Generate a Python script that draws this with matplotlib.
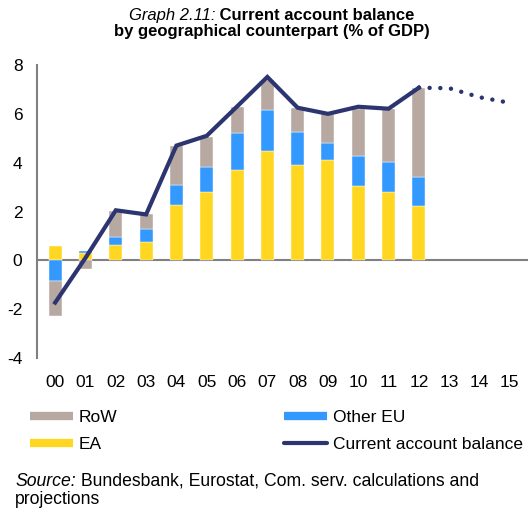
import numpy as np
import matplotlib.pyplot as plt
from matplotlib.lines import Line2D

plt.rcParams['font.family'] = ['Liberation Sans', 'DejaVu Sans']
plt.rcParams['axes.unicode_minus'] = False

years = ['00', '01', '02', '03', '04', '05', '06', '07',
         '08', '09', '10', '11', '12', '13', '14', '15']
# components, % of GDP (2000-2012)
ea = [0.59, 0.31, 0.61, 0.75, 2.27, 2.80, 3.70, 4.47, 3.90, 4.11, 3.04, 2.80, 2.21]
other_eu = [-0.86, 0.08, 0.35, 0.55, 0.83, 1.03, 1.53, 1.69, 1.35, 0.69, 1.23, 1.22, 1.20]
row = [-1.42, -0.37, 1.06, 0.61, 1.60, 1.24, 1.07, 1.23, 0.97, 1.18, 1.94, 2.16, 3.64]
cab = [-1.73, 0.10, 2.05, 1.88, 4.70, 5.10, 6.30, 7.51, 6.25, 6.00, 6.29, 6.21, 7.07]
cab_forecast = [7.07, 7.05, 6.68, 6.45]  # 12-15

c_row = '#B7A9A1'
c_oeu = '#3399FF'
c_ea = '#FFD620'
c_line = '#2D3570'

fig = plt.figure(figsize=(5.30, 5.11), dpi=100)
ax = fig.add_axes([37/530, 1-358/511, (528-37)/530, (358-65)/511])

x = np.arange(len(ea))
w = 0.43
pos_bottom = np.zeros(len(ea))
neg_bottom = np.zeros(len(ea))
for vals, col in [(ea, c_ea), (other_eu, c_oeu), (row, c_row)]:
    vals = np.array(vals)
    bottom = np.where(vals >= 0, pos_bottom, neg_bottom)
    ax.bar(x, vals, w, bottom=bottom, color=col, edgecolor='white', linewidth=0.3, zorder=2)
    pos_bottom += np.where(vals >= 0, vals, 0)
    neg_bottom += np.where(vals < 0, vals, 0)

ax.plot(x, cab, color=c_line, lw=3, zorder=4, solid_joinstyle='miter')
xf = np.arange(12, 16)
ax.plot(xf, cab_forecast, color=c_line, lw=3.2, linestyle=(0, (0.01, 2.4)),
        dash_capstyle='round', zorder=4)

ax.axhline(0, color='#808080', lw=1.5, zorder=1)
ax.set_xlim(-0.6, 15.6)
ax.set_ylim(-4, 8)
ax.set_yticks(range(-4, 9, 2))
ax.set_xticks(range(len(years)))
ax.set_xticklabels(years)
ax.tick_params(length=0, labelsize=12.5, colors='black')
ax.tick_params(axis='x', pad=12)
ax.tick_params(axis='y', pad=10.5)
for s in ['top', 'right', 'bottom']:
    ax.spines[s].set_visible(False)
ax.spines['left'].set_color('#808080')
ax.spines['left'].set_linewidth(1.5)

# title, two styles on the first line
fig.canvas.draw()
r = fig.canvas.get_renderer()
t1 = fig.text(0, 1-20/511, 'Graph 2.11:', fontsize=12, style='italic', va='baseline')
t2 = fig.text(0, 1-20/511, ' Current account balance', fontsize=12, weight='bold', va='baseline')
w1 = t1.get_window_extent(r).width
w2 = t2.get_window_extent(r).width
cx = 271.5
t1.set_x((cx - (w1+w2)/2)/530)
t2.set_x((cx - (w1+w2)/2 + w1)/530)
fig.text(cx/530, 1-36/511, 'by geographical counterpart (% of GDP)', fontsize=12,
         weight='bold', ha='center', va='baseline')

handles = [Line2D([], [], color=c_row, lw=6, solid_capstyle='butt'),
           Line2D([], [], color=c_ea, lw=6, solid_capstyle='butt'),
           Line2D([], [], color=c_oeu, lw=6, solid_capstyle='butt'),
           Line2D([], [], color=c_line, lw=3, solid_capstyle='round')]
labels = ['RoW', 'EA', 'Other EU', 'Current account balance']
fig.legend(handles, labels, loc='upper left', bbox_to_anchor=(30/530, 1-410/511),
           ncol=2, frameon=False, fontsize=12.5, handlelength=2.5, handletextpad=0.3,
           columnspacing=9.6, labelspacing=0.65, borderaxespad=0, borderpad=0)

s1 = fig.text(15/530, 1-486/511, 'Source:', fontsize=12.7, style='italic', va='baseline')
ws = s1.get_window_extent(r).width
fig.text((15+ws)/530, 1-486/511, ' Bundesbank, Eurostat, Com. serv. calculations and',
         fontsize=12.7, va='baseline')
fig.text(15/530, 1-504/511, 'projections', fontsize=12.7, va='baseline')

fig.savefig('out.png', dpi=100)
